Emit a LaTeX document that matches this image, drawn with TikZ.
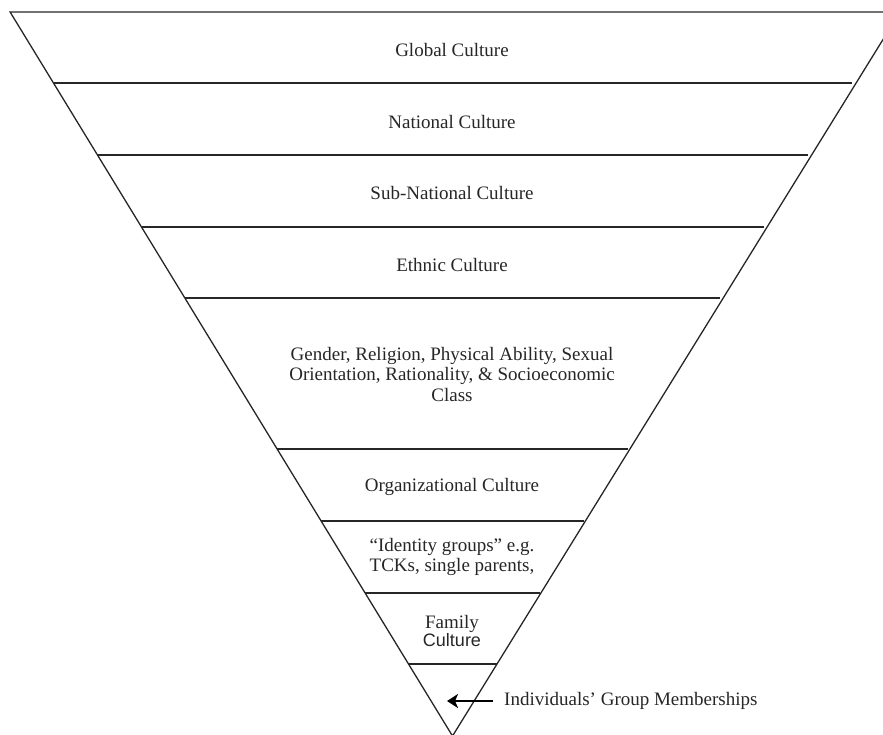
\documentclass[tikz,border=0pt]{standalone}
\usepackage{fontspec}
\setmainfont{Liberation Serif}
\newfontfamily\sansf{Liberation Sans}
\usetikzlibrary{arrows.meta}
\tikzset{
  layer/.style={line width=1.3pt, draw=black!85},
  lbl/.style={font=\fontsize{19}{20.5}\selectfont, align=center, inner sep=0pt, text=black!85},
  pointer/.style={line width=2.6pt, -{Stealth[length=11pt,width=14pt,inset=3pt]}}
}
\begin{document}
\begin{tikzpicture}[x=1pt,y=-1pt]
\useasboundingbox (0,0) rectangle (883,734);
\clip (0,0) rectangle (883,734);
% outer triangle
\draw[layer, line join=miter] (10.1,12) -- (900,12) -- (452.5,736) -- cycle;
% layer separators
\draw[layer] (53.5,83) -- (851.5,83);
\draw[layer] (97.5,155) -- (807.5,155);
\draw[layer] (141.5,227) -- (763.5,227);
\draw[layer] (184.9,298) -- (720.1,298);
\draw[layer] (277.1,449) -- (627.9,449);
\draw[layer] (321.1,521) -- (583.9,521);
\draw[layer] (365.1,593) -- (539.9,593);
\draw[layer] (408.5,664) -- (496.5,664);
% labels
\node[lbl] (global) at (452,50) {Global Culture};
\node[lbl] (national) at (452,122) {National Culture};
\node[lbl] (subnat) at (452,193) {Sub-National Culture};
\node[lbl] (ethnic) at (452,265) {Ethnic Culture};
\node[lbl] (gender) at (452,374) {Gender, Religion, Physical Ability, Sexual\\Orientation, Rationality, \& Socioeconomic\\Class};
\node[lbl] (org) at (452,487) {Organizational Culture};
\node[lbl] (identity) at (452,557) {“Identity groups” e.g.\\TCKs, single parents,};
\node[lbl, font=\fontsize{19}{18.5}\selectfont] (family) at (452,631) {Family\\{\sansf\fontsize{18}{18.5}\selectfont Culture}};
\node[lbl, anchor=west] (indiv) at (504,701) {Individuals’ Group Memberships};
\coordinate (tail) at (493,701);
\coordinate (tip) at (447,701);
\draw[pointer] (tail) -- (tip);
\end{tikzpicture}
\end{document}
